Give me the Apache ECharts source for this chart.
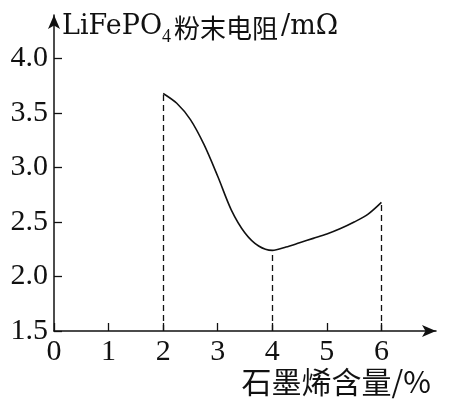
<!DOCTYPE html>
<html lang="zh">
<head>
    <meta charset="utf-8">
    <title>LiFePO4粉末电阻</title>
    <script src="https://cdn.jsdelivr.net/npm/echarts@6/dist/echarts.min.js"></script>
    <style>
        html, body {margin: 0; padding: 0; background: #fff;}
        #main {width: 453px; height: 405px;}
    </style>
</head>
<body>
<div id="main"></div>
<script type="text/javascript">
    // 石墨烯含量 / %
    var content = [2, 2.25, 2.5, 2.75, 3, 3.25, 3.5, 3.75, 4, 4.25, 4.5, 4.75, 5, 5.25, 5.5, 5.75, 6];
    // 粉末电阻 / mΩ
    var resistance = [3.68, 3.59, 3.44, 3.21, 2.92, 2.61, 2.40, 2.28, 2.24, 2.27, 2.31, 2.35, 2.39, 2.44, 2.50, 2.57, 2.68];
    // 画虚线的点
    var dropX = [2, 4, 6];
    var xTicks = [0, 1, 2, 3, 4, 5, 6];
    var yTicks = [1.5, 2.0, 2.5, 3.0, 3.5, 4.0];

    var ink = '#111';
    var serif = '"Liberation Serif", "DejaVu Serif", serif';
    var wideSerif = '"DejaVu Serif", serif';
    var cjk = '"Noto Sans CJK SC", sans-serif';

    var curve = content.map(function (x, i) { return [x, resistance[i]]; });
    var drops = dropX.map(function (x) {
        var y = resistance[content.indexOf(x)];
        return [{coord: [x, 1.5]}, {coord: [x, y]}];
    });

    var myChart = echarts.init(document.getElementById('main'));
    var option = {
        animation: false,
        grid: {left: 54, right: 17, top: 15, bottom: 74},
        xAxis: {
            type: 'value',
            min: 0,
            max: 7,
            splitLine: {show: false},
            axisLine: {
                show: true,
                symbol: ['none', 'arrow'],
                symbolSize: [9, 14],
                lineStyle: {color: ink, width: 1.5}
            },
            axisTick: {
                show: true, inside: true, length: 8,
                customValues: xTicks,
                lineStyle: {color: ink, width: 1.3}
            },
            axisLabel: {
                customValues: xTicks,
                margin: 6,
                color: ink,
                fontFamily: serif,
                fontSize: 30
            },
            name: '石墨烯含量/%',
            nameLocation: 'end',
            nameGap: -5,
            nameTextStyle: {
                color: ink,
                fontFamily: cjk,
                fontSize: 30,
                align: 'right',
                verticalAlign: 'top',
                padding: [36, 0, 0, 0]
            }
        },
        yAxis: {
            type: 'value',
            min: 1.5,
            max: 4.4,
            splitLine: {show: false},
            axisLine: {
                show: true,
                symbol: ['none', 'arrow'],
                symbolSize: [9, 14],
                lineStyle: {color: ink, width: 1.5}
            },
            axisTick: {
                show: true, inside: true, length: 8,
                customValues: yTicks,
                lineStyle: {color: ink, width: 1.3}
            },
            axisLabel: {
                customValues: yTicks,
                margin: 6,
                color: ink,
                fontFamily: serif,
                fontSize: 30,
                formatter: function (v) { return v.toFixed(1); }
            },
            name: '{la|LiFePO}{sub|4}{zh|粉末电阻}{la|/mΩ}',
            nameLocation: 'end',
            nameGap: -12,
            nameTextStyle: {
                align: 'left',
                verticalAlign: 'middle',
                padding: [0, 0, 0, 8],
                rich: {
                    la: {color: ink, fontFamily: wideSerif, fontSize: 27, verticalAlign: 'bottom'},
                    sub: {color: ink, fontFamily: serif, fontSize: 18, verticalAlign: 'bottom', padding: [0, 1, -6, 0]},
                    zh: {color: ink, fontFamily: cjk, fontSize: 26, verticalAlign: 'bottom', padding: [0, 3, -1, 2]}
                }
            }
        },
        series: [
            {
                name: '粉末电阻',
                type: 'line',
                data: curve,
                smooth: 0.3,
                showSymbol: false,
                lineStyle: {color: ink, width: 1.6},
                markLine: {
                    silent: true,
                    symbol: 'none',
                    label: {show: false},
                    lineStyle: {color: ink, width: 1.3, type: [6, 4]},
                    data: drops
                }
            }
        ]
    };
    myChart.setOption(option);
</script>
</body>
</html>
